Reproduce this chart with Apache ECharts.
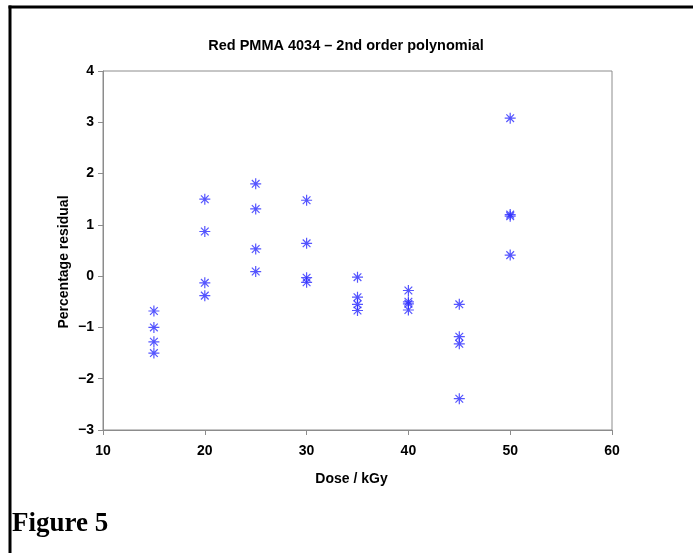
<!DOCTYPE html>
<html>
<head>
<meta charset="utf-8">
<script src="https://cdn.jsdelivr.net/npm/echarts@6/dist/echarts.min.js"></script>
<style>
  html, body { margin: 0; padding: 0; background: #fff; }
  #chart { width: 693px; height: 553px; }
</style>
</head>
<body>
<div id="chart"></div>
<script>
// dose (kGy) and percentage residual for each measurement
const dose = [
  15, 15, 15, 15,
  20, 20, 20, 20,
  25, 25, 25, 25,
  30, 30, 30, 30,
  35, 35, 35, 35,
  40, 40, 40, 40,
  45, 45, 45, 45,
  50, 50, 50, 50
];
const residual = [
  -0.68, -1.00, -1.28, -1.50,
  1.50, 0.87, -0.13, -0.38,
  1.80, 1.31, 0.53, 0.09,
  1.48, 0.64, -0.03, -0.12,
  -0.02, -0.41, -0.55, -0.67,
  -0.28, -0.50, -0.54, -0.66,
  -0.55, -1.18, -1.32, -2.39,
  3.08, 1.20, 1.17, 0.41
];
const xTicks = [10, 20, 30, 40, 50, 60];
const yTicks = [-3, -2, -1, 0, 1, 2, 3, 4];

const points = dose.map((d, i) => [d, residual[i]]);

// 8-armed asterisk drawn as open strokes
const asterisk = 'path://M0 5 L10 5 M5 0 L5 10 M1.5 1.5 L8.5 8.5 M8.5 1.5 L1.5 8.5';

const labelFont = 'Liberation Sans, Arial, sans-serif';
const axisGray = '#8c8c8c';

const chart = echarts.init(document.getElementById('chart'), null, { renderer: 'canvas' });

chart.setOption({
  backgroundColor: '#ffffff',
  animation: false,
  title: {
    text: 'Red PMMA 4034 \u2013 2nd order polynomial',
    left: 341,
    top: 33,
    textAlign: 'center',
    textStyle: { fontFamily: labelFont, fontSize: 14.5, fontWeight: 'bold', color: '#000' }
  },
  grid: {
    left: 103,
    right: 81,
    top: 71,
    bottom: 123,
    show: true,
    borderColor: axisGray,
    borderWidth: 1,
    backgroundColor: 'transparent'
  },
  xAxis: {
    type: 'value',
    min: xTicks[0],
    max: xTicks[xTicks.length - 1],
    interval: 10,
    name: 'Dose / kGy',
    nameLocation: 'middle',
    nameGap: 42,
    nameTextStyle: {
      fontFamily: labelFont, fontSize: 14, fontWeight: 'bold', color: '#000',
      padding: [0, 12, 0, 0]
    },
    axisLine: { show: true, onZero: false, lineStyle: { color: axisGray, width: 1 } },
    axisTick: { show: true, length: 5, lineStyle: { color: axisGray } },
    axisLabel: {
      margin: 14,
      fontFamily: labelFont, fontSize: 14, fontWeight: 'bold', color: '#000'
    },
    splitLine: { show: false }
  },
  yAxis: {
    type: 'value',
    min: yTicks[0],
    max: yTicks[yTicks.length - 1],
    interval: 1,
    axisLine: { show: true, onZero: false, lineStyle: { color: axisGray, width: 1 } },
    axisTick: { show: true, length: 5, lineStyle: { color: axisGray } },
    axisLabel: {
      margin: 9,
      fontFamily: labelFont, fontSize: 14, fontWeight: 'bold', color: '#000',
      formatter: v => String(v).replace('-', '\u2212')
    },
    splitLine: { show: false }
  },
  graphic: [
    {
      type: 'text',
      x: 64,
      y: 262,
      rotation: Math.PI / 2,
      style: {
        text: 'Percentage residual',
        font: 'bold 14px ' + labelFont,
        fill: '#000',
        align: 'center',
        verticalAlign: 'middle'
      }
    },
    {
      type: 'text',
      left: 12,
      top: 511,
      style: {
        text: 'Figure 5',
        font: 'bold 27px "Liberation Serif", "Times New Roman", serif',
        fill: '#000'
      }
    },
    {
      type: 'line',
      shape: { x1: 8.5, y1: 7, x2: 693, y2: 7 },
      style: { stroke: '#000', lineWidth: 3 }
    },
    {
      type: 'line',
      shape: { x1: 10, y1: 5.5, x2: 10, y2: 553 },
      style: { stroke: '#000', lineWidth: 3 }
    }
  ],
  series: [
    {
      type: 'scatter',
      data: points,
      symbol: asterisk,
      symbolSize: 11,
      itemStyle: { color: 'transparent', borderColor: '#2a2aff', borderWidth: 1.2 }
    }
  ]
});
</script>
</body>
</html>
